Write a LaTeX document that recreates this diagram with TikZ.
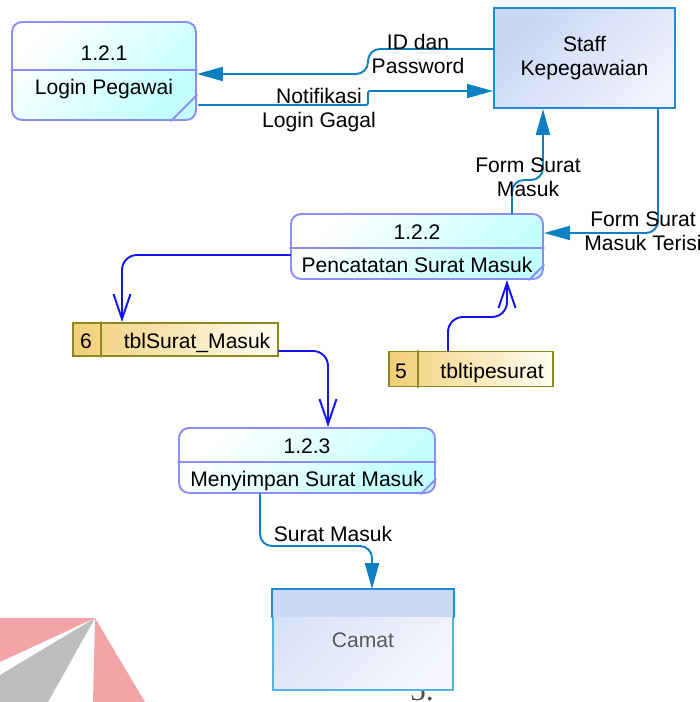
\documentclass[tikz,border=0pt]{standalone}
\usepackage{fontspec}
\setmainfont{Liberation Sans}
\newfontfamily\pagefont{Liberation Serif}
\usetikzlibrary{arrows.meta,calc}

\definecolor{procedge}{HTML}{8C8CF5}
\definecolor{procfill}{HTML}{C2FFFF}
\definecolor{flowblue}{HTML}{0E80C2}
\definecolor{storeblue}{HTML}{1414F0}
\definecolor{extedge}{HTML}{1E8CD2}
\definecolor{exttop}{HTML}{C8D6F4}
\definecolor{extbottom}{HTML}{F0F2FD}
\definecolor{camatedge}{HTML}{55B2E2}
\definecolor{camattop}{HTML}{D8E2F7}
\definecolor{camatbottom}{HTML}{F5F6FD}
\definecolor{camatstrip}{HTML}{CAD9F5}
\definecolor{storeedge}{HTML}{8C8A1E}
\definecolor{storeleft}{HTML}{F2CF78}
\definecolor{storeright}{HTML}{FFFDF2}
\definecolor{logored}{HTML}{F4A4A6}
\definecolor{logogray}{HTML}{BDBEBF}

\tikzset{
    process/.style = {draw = procedge, line width = 1.1pt, rounded corners = 0.2cm,
        top color = white, bottom color = procfill, shading angle = 45, inner sep = 0pt},
    procline/.style = {draw = procedge, line width = 1.1pt},
    entity/.style = {draw = extedge, line width = 1.1pt, top color = exttop,
        bottom color = extbottom, shading angle = 45, inner sep = 0pt, align = center},
    datastore/.style = {draw = storeedge, line width = 1.1pt, left color = storeleft,
        right color = storeright, inner sep = 0pt},
    flow/.style = {draw = flowblue, line width = 1.1pt, rounded corners = 0.24cm,
        -{Triangle[length = 0.52cm, width = 0.28cm]}},
    storeflow/.style = {draw = storeblue, line width = 1.1pt, rounded corners = 0.3cm,
        -{Straight Barb[length = 0.5cm, width = 0.34cm]}},
    flowlabel/.style = {align = center, inner sep = 0pt}
}

\begin{document}
\begin{tikzpicture}[%
        x = 0.02cm,
        y = -0.02cm,
        line cap = round,
        font = \fontsize{12}{13.5}\selectfont
    ]

        % Page size.
        \useasboundingbox (0, 0) rectangle (699, 702);

        % Logo in the corner.
        \fill[logored] (0, 618) -- (95, 618) -- (0, 662) -- cycle;
        \fill[logogray] (95, 618) -- (0, 675) -- (0, 702) -- (48, 702) -- cycle;
        \fill[logored] (95, 618) -- (93, 702) -- (145, 702) -- cycle;

        % Page number, partly under the box.
        \node[anchor = base, text = black!70, font = \pagefont\fontsize{18}{18}\selectfont]
            (pagenum) at (422, 700) {5.};

        % Processes.
        \node[process, minimum width = 3.68cm, minimum height = 1.96cm] (p121) at (104, 71) {};
        \node[process, minimum width = 5.04cm, minimum height = 1.3cm] (p122) at (417, 246.5) {};
        \node[process, minimum width = 5.12cm, minimum height = 1.3cm] (p123) at (307, 460.5) {};

        \foreach \p/\d/\n/\a/\b/\num/\name in {%
                p121/49/26/39/73/1.2.1/Login Pegawai,
                p122/35/15/26/59/1.2.2/Pencatatan Surat Masuk,
                p123/35/15/26/59/1.2.3/Menyimpan Surat Masuk}{%
            \draw[procline] ($(\p.north west) + (0, \d)$) -- ($(\p.north east) + (0, \d)$);
            \draw[procline] ($(\p.south east) + (0, -\n)$) -- ($(\p.south east) + (-\n, 0)$);
            \node[anchor = base] (\p num) at ($(\p.north) + (0, \a)$) {\num};
            \node[anchor = base] (\p name) at ($(\p.north) + (0, \b)$) {\name};
        }

        % External entities.
        \node[entity, minimum width = 3.62cm, minimum height = 2cm] (staff) at (584.5, 58)
            {Staff\\Kepegawaian};
        \node[entity, draw = camatedge, top color = camattop, bottom color = camatbottom,
            shading angle = 45, text = black!65, minimum width = 3.6cm, minimum height = 2cm]
            (camat) at (363, 640) {Camat};
        \fill[camatstrip] ($(camat.north west) + (0.5, 0.5)$) rectangle ($(camat.north east) + (-0.5, 28)$);
        \draw[extedge, line width = 1.1pt] ($(camat.north west) + (0, 28)$) -- (camat.north west)
            -- (camat.north east) -- ($(camat.north east) + (0, 28)$);

        % Data stores.
        \node[datastore, minimum width = 4.1cm, minimum height = 0.66cm] (tbl6) at (175.5, 339.5) {};
        \node[datastore, minimum width = 3.28cm, minimum height = 0.7cm] (tbl5) at (471, 369) {};
        \draw[storeedge, line width = 1.1pt] ($(tbl6.north west) + (29, 0)$) -- ($(tbl6.south west) + (29, 0)$);
        \draw[storeedge, line width = 1.1pt] ($(tbl5.north west) + (30, 0)$) -- ($(tbl5.south west) + (30, 0)$);
        \node[anchor = base] (tbl6num) at ($(tbl6.west) + (14, 8.5)$) {6};
        \node[anchor = base] (tbl6name) at ($(tbl6.west) + (125, 8.5)$) {tblSurat\_Masuk};
        \node[anchor = base] (tbl5num) at ($(tbl5.west) + (13, 9)$) {5};
        \node[anchor = base] (tbl5name) at ($(tbl5.west) + (104, 9)$) {tbltipesurat};

        % Flows to and from the entities.
        \draw[flow] ($(staff.west) + (0, -9)$) -- (368, 49) -- (368, 74) -- ($(p121.east) + (0, 3)$);
        \draw[flow, rounded corners = 0.04cm] ($(p121.east) + (2, 34)$) -- (368, 105) -- (368, 91)
            -- ($(staff.west) + (0, 33)$);
        \draw[flow] ($(p122.north) + (95, 0)$) -- (512, 180) -- (543, 180) -- ($(staff.south) + (-41.5, 0)$);
        \draw[flow] ($(staff.south) + (73.5, 0)$) -- (658, 233) -- ($(p122.east) + (0, -13.5)$);
        \draw[flow] ($(p123.south) + (-47, 0)$) -- (260, 546) -- (372, 546) -- ($(camat.north) + (9, 0)$);

        % Flows to and from the stores.
        \draw[storeflow] ($(p122.west) + (0, 8.5)$) -- (122, 255) -- ($(tbl6.north) + (-53.5, 0)$);
        \draw[storeflow] ($(tbl6.east) + (0, 11.5)$) -- (328, 351) -- ($(p123.north) + (21, 0)$);
        \draw[storeflow] ($(tbl5.north) + (-23, 0)$) -- (448, 317) -- (507, 317) -- ($(p122.south) + (90, 0)$);

        % Flow labels.
        \node[flowlabel] (lblid) at (418, 54) {ID dan\\Password};
        \node[flowlabel] (lblnotif) at (319, 110) {Notifikasi\\Login Gagal};
        \node[flowlabel] (lblform) at (528, 177) {Form Surat\\Masuk};
        \node[flowlabel] (lblterisi) at (643, 231) {Form Surat\\Masuk Terisi};
        \node[anchor = base] (lblsurat) at (333, 541) {Surat Masuk};
    \end{tikzpicture}
\end{document}
